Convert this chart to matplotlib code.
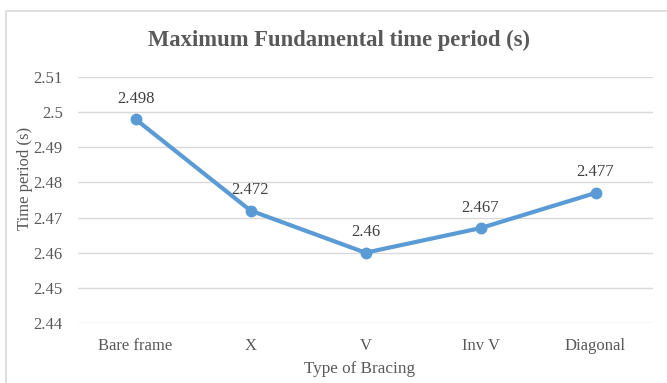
import matplotlib
matplotlib.use("Agg")
import matplotlib.pyplot as plt
from matplotlib.patches import Rectangle

categories = ["Bare frame", "X", "V", "Inv V", "Diagonal"]
values = [2.498, 2.472, 2.46, 2.467, 2.477]
labels = ["2.498", "2.472", "2.46", "2.467", "2.477"]
yticks = [2.44, 2.45, 2.46, 2.47, 2.48, 2.49, 2.5, 2.51]
yticklabels = ["2.44", "2.45", "2.46", "2.47", "2.48", "2.49", "2.5", "2.51"]

plt.rcParams['font.family'] = ['Liberation Serif', 'DejaVu Serif']
txt = '#595959'

fig = plt.figure(figsize=(6.67, 3.83), dpi=100)
fig.patches.append(Rectangle((6/667, -0.1), 1.1, 1 - 11/383 + 0.1, transform=fig.transFigure,
                             fill=False, edgecolor='#d9d9d9', linewidth=1.2))
ax = fig.add_axes([78/667, 1 - 323/383, 575/667, 246/383])
x = list(range(len(categories)))
ax.plot(x, values, color='#5B9BD5', linewidth=3, marker='o', markersize=7.5, zorder=3)
for xi, v, l in zip(x, values, labels):
    ax.annotate(l, (xi, v), xytext=(0, 9), textcoords='offset points',
                ha='center', va='bottom', fontsize=12, color='#404040')
ax.set_xlim(-0.5, len(categories) - 0.5)
ax.set_ylim(2.44, 2.51)
ax.set_yticks(yticks)
ax.set_yticklabels(yticklabels, fontsize=12, color=txt)
ax.set_xticks(x)
ax.set_xticklabels(categories, fontsize=12, color=txt)
ax.tick_params(axis='x', length=0, pad=11)
ax.tick_params(axis='y', length=0, pad=11)
ax.grid(axis='y', color='#d9d9d9', linewidth=1)
ax.set_axisbelow(True)
for s in ax.spines.values():
    s.set_visible(False)
fig.text(339/667, 1 - 40/383, "Maximum Fundamental time period (s)", ha='center', va='center',
         fontsize=16.3, fontweight='bold', color=txt)
fig.text(25/667, 1 - 178/383, "Time period (s)", rotation=90, ha='center', va='center',
         fontsize=12, color=txt)
fig.text(360/667, 1 - 369/383, "Type of Bracing", ha='center', va='center',
         fontsize=12.3, color=txt)
fig.savefig("out.png", dpi=100)
